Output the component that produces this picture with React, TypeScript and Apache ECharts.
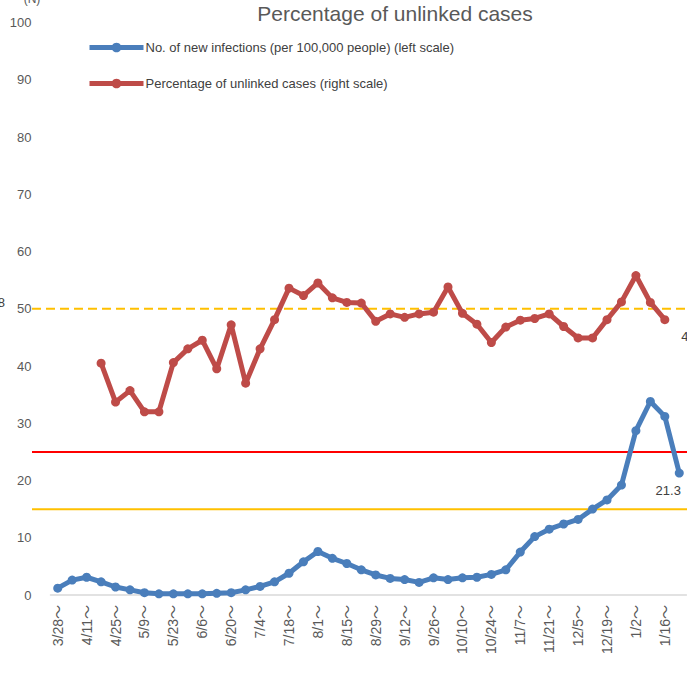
import React, { useEffect, useRef } from "react";
import * as echarts from "echarts";

const categories: string[] = [
  "3/28～", "4/4～", "4/11～", "4/18～", "4/25～", "5/2～", "5/9～", "5/16～", "5/23～", "5/30～",
  "6/6～", "6/13～", "6/20～", "6/27～", "7/4～", "7/11～", "7/18～", "7/25～", "8/1～", "8/8～",
  "8/15～", "8/22～", "8/29～", "9/5～", "9/12～", "9/19～", "9/26～", "10/3～", "10/10～", "10/17～",
  "10/24～", "10/31～", "11/7～", "11/14～", "11/21～", "11/28～", "12/5～", "12/12～", "12/19～", "12/26～",
  "1/2～", "1/9～", "1/16～", "1/23～",
];

const newInfections: number[] = [
  1.2, 2.6, 3.1, 2.3, 1.4, 0.9, 0.4, 0.2, 0.2, 0.2,
  0.2, 0.3, 0.4, 0.9, 1.5, 2.3, 3.8, 5.8, 7.6, 6.4,
  5.5, 4.4, 3.5, 2.9, 2.7, 2.2, 3.0, 2.7, 3.0, 3.1,
  3.6, 4.4, 7.5, 10.2, 11.5, 12.4, 13.2, 15.0, 16.6, 19.2,
  28.7, 33.8, 31.2, 21.3,
];

const unlinkedPct: (number | null)[] = [
  null, null, null, 40.5, 33.7, 35.7, 32.0, 32.0, 40.6, 43.0,
  44.5, 39.5, 47.2, 37.0, 43.0, 48.1, 53.6, 52.3, 54.5, 51.9,
  51.1, 51.0, 47.8, 49.1, 48.5, 49.1, 49.4, 53.8, 49.2, 47.3,
  44.1, 46.8, 48.0, 48.3, 49.1, 46.9, 44.9, 44.9, 48.1, 51.2,
  55.8, 51.1, 48.1, null,
];

const refLines = [
  { value: 25, color: "#ff0000", dashed: false },
  { value: 15, color: "#ffc000", dashed: false },
  { value: 50, color: "#ffc000", dashed: true },
];

const titleText = "Percentage of unlinked cases";
const seriesNames = [
  "No. of new infections (per 100,000 people) (left scale)",
  "Percentage of unlinked cases (right scale)",
];

const FONT = "Liberation Sans, Arial, Noto Sans CJK JP, sans-serif";

export default function App() {
  const ref = useRef<HTMLDivElement>(null);
  useEffect(() => {
    if (!ref.current) return;
    const chart = echarts.init(ref.current, null, { renderer: "svg" });
    const lastBlue = newInfections.length - 1;
    let lastRed = unlinkedPct.length - 1;
    while (lastRed >= 0 && unlinkedPct[lastRed] == null) lastRed--;

    const blueData = newInfections.map((v, i) =>
      i === lastBlue
        ? {
            value: v,
            label: {
              show: true,
              position: "bottom",
              offset: [-11, 1],
              color: "#404040",
              fontSize: 13,
              fontFamily: FONT,
            },
          }
        : v
    );
    const redData = unlinkedPct.map((v, i) =>
      i === lastRed
        ? {
            value: v,
            label: {
              show: true,
              position: "right",
              offset: [7, 17],
              color: "#404040",
              fontSize: 13,
              fontFamily: FONT,
            },
          }
        : v
    );

    chart.setOption({
      animation: false,
      grid: { left: 50.5, right: 0.5, top: 22.5, bottom: 82, containLabel: false },
      legend: {
        orient: "vertical",
        left: 82,
        top: 36,
        itemWidth: 54,
        itemHeight: 12,
        itemGap: 23,
        lineStyle: { width: 5 },
        textStyle: { color: "#404040", fontSize: 13, fontFamily: FONT, padding: [0, 0, 0, -3] },
        data: seriesNames,
      },
      xAxis: {
        type: "category",
        data: categories,
        boundaryGap: true,
        axisLine: { lineStyle: { color: "#d9d9d9", width: 1.5 } },
        axisTick: { show: false },
        axisLabel: {
          rotate: 90,
          interval: 1,
          margin: 10,
          color: "#595959",
          fontSize: 14,
          fontFamily: FONT,
        },
        splitLine: { show: false },
      },
      yAxis: [
        {
          type: "value",
          min: 0,
          max: 100,
          interval: 10,
          axisLine: { show: false },
          axisTick: { show: false },
          splitLine: { show: false },
          axisLabel: { margin: 19, color: "#595959", fontSize: 13, fontFamily: FONT },
        },
        {
          type: "value",
          min: 0,
          max: 100,
          interval: 10,
          show: false,
          splitLine: { show: false },
        },
      ],
      series: [
        {
          name: seriesNames[0],
          type: "line",
          yAxisIndex: 0,
          data: blueData,
          symbol: "circle",
          symbolSize: 9,
          lineStyle: { color: "#4a7ebb", width: 5 },
          itemStyle: { color: "#4a7ebb" },
          z: 3,
        },
        {
          name: seriesNames[1],
          type: "line",
          yAxisIndex: 1,
          data: redData,
          symbol: "circle",
          symbolSize: 9,
          connectNulls: false,
          lineStyle: { color: "#be4b48", width: 5 },
          itemStyle: { color: "#be4b48" },
          z: 3,
        },
      ],
    });

    const graphics: any[] = refLines.map((r) => {
      const y = chart.convertToPixel({ yAxisIndex: 0 }, r.value) as number;
      return {
        type: "line",
        shape: { x1: 32, y1: y, x2: 687, y2: y },
        style: {
          stroke: r.color,
          lineWidth: 2,
          lineDash: r.dashed ? [9, 5] : null,
        },
        z: 1,
      };
    });
    graphics.push({
      type: "text",
      x: 395,
      y: 13,
      style: {
        text: titleText,
        textAlign: "center",
        textVerticalAlign: "middle",
        fill: "#595959",
        font: `21px ${FONT}`,
      },
    });
    graphics.push({
      type: "text",
      x: 32,
      y: -1,
      style: {
        text: "(N)",
        textAlign: "center",
        textVerticalAlign: "middle",
        fill: "#595959",
        font: `12px ${FONT}`,
      },
    });
    graphics.push({
      type: "text",
      x: 5,
      y: 302,
      style: {
        text: "48",
        textAlign: "right",
        textVerticalAlign: "middle",
        fill: "#404040",
        font: `13px ${FONT}`,
      },
    });
    chart.setOption({ graphic: graphics });

    return () => chart.dispose();
  }, []);

  return (
    <div
      ref={ref}
      style={{ position: "fixed", left: 0, top: 0, width: 687, height: 677, background: "#fff" }}
    />
  );
}
